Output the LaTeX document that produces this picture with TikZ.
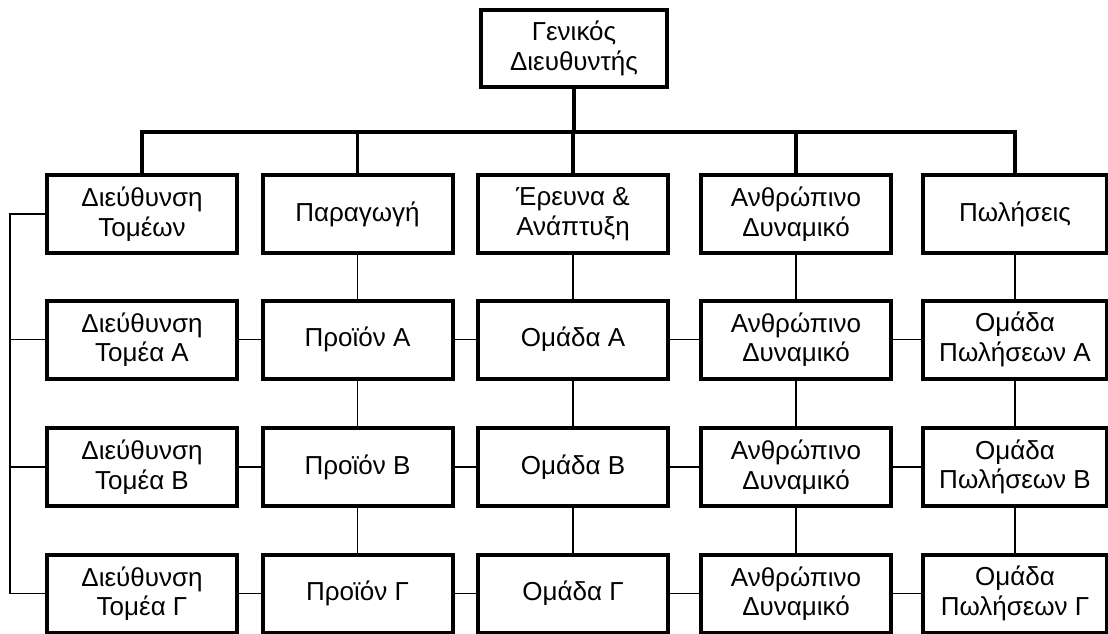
\documentclass[tikz,border=0pt]{standalone}
\usepackage{fontspec}
\setmainfont{Liberation Sans}
\begin{document}
\begin{tikzpicture}[x=1pt,y=-1pt,
  box/.style={draw, line width=4pt, minimum width=190pt, minimum height=78pt,
    align=center, inner sep=0pt, font=\fontsize{26}{29.5}\selectfont},
  trunk/.style={line width=3.6pt},
  link/.style={line width=1.6pt}]
\useasboundingbox (0,0) rectangle (1108,633);

% general manager
\node[box, minimum width=186pt, minimum height=77pt] (gm) at (574,48.5) {Γενικός\\Διευθυντής};

% department heads
\node[box] (h1) at (142,214) {Διεύθυνση\\Τομέων};
\node[box] (h2) at (357.5,214) {Παραγωγή};
\node[box] (h3) at (573,214) {Έρευνα \&\\Ανάπτυξη};
\node[box] (h4) at (796,214) {Ανθρώπινο\\Δυναμικό};
\node[box, minimum width=184pt] (h5) at (1015,214) {Πωλήσεις};

% first row of units
\node[box] (a1) at (142,339.5) {Διεύθυνση\\Τομέα Α};
\node[box] (a2) at (357.5,339.5) {Προϊόν Α};
\node[box] (a3) at (573,339.5) {Ομάδα Α};
\node[box] (a4) at (796,339.5) {Ανθρώπινο\\Δυναμικό};
\node[box, minimum width=184pt] (a5) at (1015,339.5) {Ομάδα\\Πωλήσεων Α};

% second row of units
\node[box] (b1) at (142,467) {Διεύθυνση\\Τομέα Β};
\node[box] (b2) at (357.5,467) {Προϊόν Β};
\node[box] (b3) at (573,467) {Ομάδα Β};
\node[box] (b4) at (796,467) {Ανθρώπινο\\Δυναμικό};
\node[box, minimum width=184pt] (b5) at (1015,467) {Ομάδα\\Πωλήσεων Β};

% third row of units
\node[box] (c1) at (142,593.5) {Διεύθυνση\\Τομέα Γ};
\node[box] (c2) at (357.5,593.5) {Προϊόν Γ};
\node[box] (c3) at (573,593.5) {Ομάδα Γ};
\node[box] (c4) at (796,593.5) {Ανθρώπινο\\Δυναμικό};
\node[box, minimum width=184pt] (c5) at (1015,593.5) {Ομάδα\\Πωλήσεων Γ};

% reporting bus under the general manager
\coordinate (bus) at (0,132);
\coordinate (rail) at (10,0);
\draw[trunk] (gm.south) -- (gm.south |- bus);
\draw[trunk] (h1.north) -- (h1.north |- bus) -- (h5.north |- bus) -- (h5.north);
\foreach \k in {2,3,4}
  \draw[trunk] (h\k.north) -- (h\k.north |- bus);

% left rail of the sector directorate
\draw[link] (h1.west) -- (h1.west -| rail) -- (c1.west -| rail) -- (c1.west);
\draw[link] (a1.west -| rail) -- (a1.west);
\draw[link] (b1.west -| rail) -- (b1.west);

% vertical links inside the departments
\foreach \k in {2,...,5} {
  \draw[link] (h\k.south) -- (a\k.north);
  \draw[link] (a\k.south) -- (b\k.north);
  \draw[link] (b\k.south) -- (c\k.north);
}

% horizontal links across each row
\foreach \r in {a,b,c}
  \foreach \i/\j in {1/2,2/3,3/4,4/5}
    \draw[link] (\r\i.east) -- (\r\j.west);
\end{tikzpicture}
\end{document}
